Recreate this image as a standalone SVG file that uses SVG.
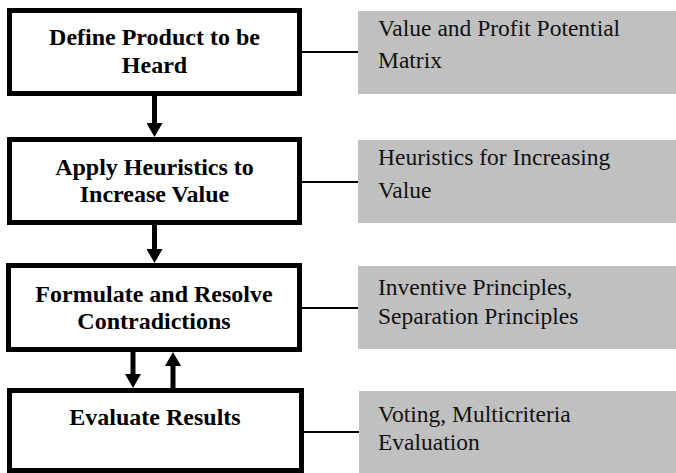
<svg xmlns="http://www.w3.org/2000/svg" width="676" height="473" viewBox="0 0 676 473">
  <style>
    .step { fill: #ffffff; stroke: #000000; stroke-width: 5; }
    .tool { fill: #c0c0c0; stroke: none; }
    .stepText { font-family: "Liberation Serif", "Times New Roman", serif; font-weight: bold; font-size: 24px; fill: #000000; text-anchor: middle; }
    .toolText { font-family: "Liberation Serif", "Times New Roman", serif; font-size: 23.5px; fill: #111111; }
    .link { stroke: #000000; stroke-width: 2; fill: none; }
    .flow { stroke: #000000; stroke-width: 5; fill: none; marker-end: url(#head); }
  </style>
  <defs>
    <marker id="head" markerUnits="userSpaceOnUse" markerWidth="14" markerHeight="16" refX="0" refY="8" orient="auto">
      <path d="M0,0 L14,8 L0,16 z" fill="#000000"/>
    </marker>
  </defs>
  <rect width="676" height="473" fill="#ffffff"/>

  <g id="connectors">
    <line class="link" x1="302" y1="52" x2="358" y2="52"/>
    <line class="link" x1="302" y1="182" x2="358" y2="182"/>
    <line class="link" x1="302" y1="308" x2="358" y2="308"/>
    <line class="link" x1="304" y1="432" x2="359" y2="432"/>
    <line class="flow" x1="154.5" y1="96" x2="154.5" y2="123"/>
    <line class="flow" x1="154.5" y1="225" x2="154.5" y2="249"/>
    <line class="flow" x1="133" y1="352" x2="133" y2="374"/>
    <line class="flow" x1="173" y1="388" x2="173" y2="366"/>
  </g>

  <g id="step1">
    <rect class="step" x="9.5" y="10.5" width="290" height="83"/>
    <text class="stepText" x="154.5" y="45">Define Product to be</text>
    <text class="stepText" x="154.5" y="73">Heard</text>
  </g>
  <g id="step2">
    <rect class="step" x="9.5" y="139.5" width="290" height="83"/>
    <text class="stepText" x="154.5" y="175">Apply Heuristics to</text>
    <text class="stepText" x="154.5" y="202">Increase Value</text>
  </g>
  <g id="step3">
    <rect class="step" x="8.5" y="265.5" width="291" height="84"/>
    <text class="stepText" x="154" y="302">Formulate and Resolve</text>
    <text class="stepText" x="154" y="329">Contradictions</text>
  </g>
  <g id="step4">
    <rect class="step" x="9.5" y="390.5" width="292" height="80"/>
    <text class="stepText" x="155" y="425">Evaluate Results</text>
  </g>

  <g id="tool1">
    <rect class="tool" x="358" y="11" width="318" height="83"/>
    <text class="toolText" x="378" y="36">Value and Profit Potential</text>
    <text class="toolText" x="378" y="68">Matrix</text>
  </g>
  <g id="tool2">
    <rect class="tool" x="358" y="140" width="318" height="83"/>
    <text class="toolText" x="378" y="165">Heuristics for Increasing</text>
    <text class="toolText" x="378" y="198">Value</text>
  </g>
  <g id="tool3">
    <rect class="tool" x="358" y="266" width="318" height="83"/>
    <text class="toolText" x="378" y="295">Inventive Principles,</text>
    <text class="toolText" x="378" y="324">Separation Principles</text>
  </g>
  <g id="tool4">
    <rect class="tool" x="359" y="391" width="317" height="82"/>
    <text class="toolText" x="378" y="422">Voting, Multicriteria</text>
    <text class="toolText" x="378" y="450">Evaluation</text>
  </g>
</svg>
